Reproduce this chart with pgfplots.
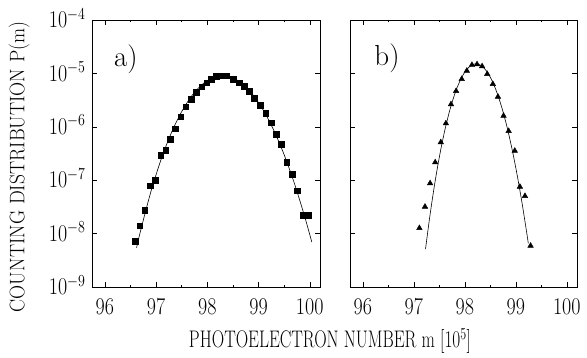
\RequirePackage{fix-cm}
\documentclass[border=0pt]{standalone}
\usepackage{pgfplots}
\pgfplotsset{compat=1.18}
\usepackage{graphicx}
\begin{document}
\begin{tikzpicture}
\path[use as bounding box] (-92pt,-71pt) rectangle (495pt,287pt);
\begin{axis}[
  ymode=log, scale only axis, width=228pt, height=267pt,
  xmin=95.75, xmax=100.2, ymin=1e-9, ymax=1e-4,
  xtick={96,97,98,99,100}, ytick={1e-9,1e-8,1e-7,1e-6,1e-5,1e-4},
  xticklabels={\scalebox{1}[1.2]{96},\scalebox{1}[1.2]{97},\scalebox{1}[1.2]{98},\scalebox{1}[1.2]{99},\scalebox{1}[1.2]{100}},
  yticklabels={\scalebox{1}[1.2]{$10^{-9}$},\scalebox{1}[1.2]{$10^{-8}$},\scalebox{1}[1.2]{$10^{-7}$},\scalebox{1}[1.2]{$10^{-6}$},\scalebox{1}[1.2]{$10^{-5}$},\scalebox{1}[1.2]{$10^{-4}$}},
  yminorticks=false, minor x tick num=1,
  tick align=inside, major tick length=5pt, minor tick length=2.5pt,
  axis line style={line width=0.7pt},
  tick style={line width=0.5pt, black},
  tick label style={font=\fontsize{20}{24}\selectfont},
  xticklabel style={yshift=-8pt},
  yticklabel style={xshift=-3pt, yshift=2pt},
  clip=false,
  ylabel={\scalebox{0.93}[1]{COUNTING DISTRIBUTION P(m)}},
  ylabel style={font=\fontsize{21}{25}\selectfont, at={(axis description cs:-0.32,0.45)}, anchor=center, rotate=0},
]
\addplot[only marks, mark=square*, mark size=2.9pt, black] coordinates {
(96.59,7.26e-9) (96.68,1.41e-8) (96.78,2.77e-8) (96.88,7.9e-8) (96.98,1.01e-7)
(97.09,2.96e-7) (97.19,3.63e-7) (97.28,5.83e-7) (97.38,9.2e-7) (97.48,1.55e-6)
(97.58,2.38e-6) (97.68,3.32e-6) (97.78,4.43e-6) (97.89,5.64e-6) (97.99,6.70e-6)
(98.08,7.76e-6) (98.18,8.9e-6) (98.28,9.06e-6) (98.38,9.06e-6) (98.51,7.86e-6)
(98.62,6.70e-6) (98.72,5.81e-6) (98.82,4.68e-6) (98.92,3.42e-6) (99.03,2.56e-6)
(99.14,1.79e-6) (99.24,1.19e-6) (99.35,7.33e-7) (99.45,4.76e-7) (99.55,2.16e-7)
(99.66,1.31e-7) (99.76,6.36e-8) (99.87,2.23e-8) (99.97,2.23e-8)
};
\addplot[black, line width=0.6pt, smooth, no marks] coordinates {
(96.62,5.42e-9) (96.7,1.15e-8) (96.9,6.12e-8) (97.1,2.48e-7) (97.3,7.76e-7)
(97.5,1.92e-6) (97.7,3.84e-6) (97.9,6.22e-6) (98.1,8.30e-6) (98.3,9.12e-6)
(98.5,8.30e-6) (98.7,6.24e-6) (98.9,3.88e-6) (99.1,2.00e-6) (99.3,8.51e-7)
(99.5,3.00e-7) (99.7,8.73e-8) (99.9,2.10e-8) (100.04,6.95e-9)
};
\node[font=\fontsize{29}{34}\selectfont] at (rel axis cs:0.149,0.854) {a)};
\end{axis}
\begin{axis}[
  ymode=log, scale only axis, width=227pt, height=267pt, at={(258pt,0pt)},
  xmin=95.75, xmax=100.2, ymin=1e-9, ymax=1e-4,
  xtick={96,97,98,99,100}, ytick={1e-9,1e-8,1e-7,1e-6,1e-5,1e-4},
  xticklabels={\scalebox{1}[1.2]{96},\scalebox{1}[1.2]{97},\scalebox{1}[1.2]{98},\scalebox{1}[1.2]{99},\scalebox{1}[1.2]{100}},
  yticklabels={},
  yminorticks=false, minor x tick num=1,
  tick align=inside, major tick length=5pt, minor tick length=2.5pt,
  axis line style={line width=0.7pt},
  tick style={line width=0.5pt, black},
  tick label style={font=\fontsize{20}{24}\selectfont},
  xticklabel style={yshift=-8pt},
  clip=false,
]
\addplot[only marks, mark=triangle*, mark size=3.2pt, black] coordinates {
(97.11,1.27e-8) (97.22,3.19e-8) (97.32,8.75e-8) (97.42,2.16e-7) (97.53,5.13e-7)
(97.63,1.16e-6) (97.73,2.64e-6) (97.83,4.68e-6) (97.94,7.85e-6) (98.04,1.12e-5)
(98.14,1.44e-5) (98.24,1.48e-5) (98.34,1.36e-5) (98.44,9.75e-6) (98.55,6.33e-6)
(98.65,3.66e-6) (98.76,1.61e-6) (98.86,8.34e-7) (98.98,3.56e-7) (99.08,7.55e-8)
(99.18,5.06e-8) (99.29,5.93e-9)
};
\addplot[black, line width=0.6pt, smooth, no marks] coordinates {
(97.23,5.11e-9) (97.32,2.28e-8) (97.42,9.75e-8) (97.52,3.37e-7) (97.62,9.62e-7)
(97.72,2.28e-6) (97.82,4.56e-6) (97.92,7.74e-6) (98.02,1.125e-5) (98.12,1.406e-5)
(98.22,1.514e-5) (98.32,1.406e-5) (98.42,1.127e-5) (98.52,7.80e-6) (98.62,4.66e-6)
(98.72,2.40e-6) (98.82,1.067e-6) (98.92,4.09e-7) (99.02,1.355e-7) (99.12,3.87e-8)
(99.22,9.55e-9) (99.245,6.58e-9)
};
\node[font=\fontsize{29}{34}\selectfont] at (rel axis cs:0.163,0.858) {b)};
\end{axis}
\node[font=\fontsize{24}{28}\selectfont] at (238pt,-54pt) {\scalebox{0.72}[1]{PHOTOELECTRON NUMBER m [10$^5$]}};
\end{tikzpicture}
\end{document}
